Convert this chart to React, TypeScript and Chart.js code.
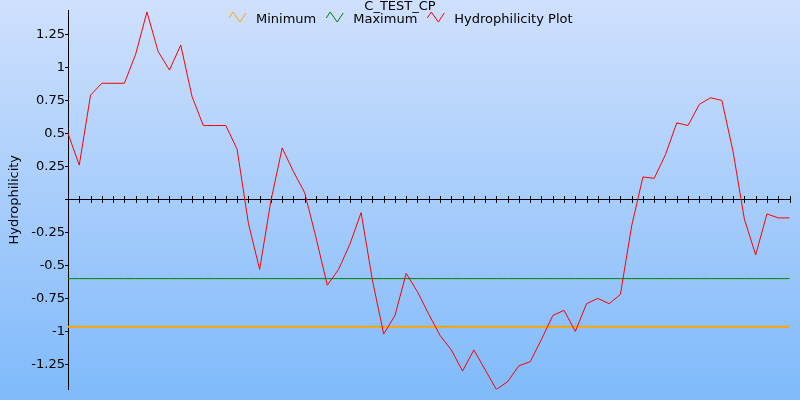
import React, { useEffect, useRef } from 'react';
import { Chart, registerables } from 'chart.js';

Chart.register(...registerables);

const TITLE = 'C_TEST_CP';
const Y_TITLE = 'Hydrophilicity';

const POSITIONS = [
  '1', '2', '3', '4', '5', '6', '7', '8', '9', '10',
  '11', '12', '13', '14', '15', '16', '17', '18', '19', '20',
  '21', '22', '23', '24', '25', '26', '27', '28', '29', '30',
  '31', '32', '33', '34', '35', '36', '37', '38', '39', '40',
  '41', '42', '43', '44', '45', '46', '47', '48', '49', '50',
  '51', '52', '53', '54', '55', '56', '57', '58', '59', '60',
  '61', '62', '63', '64', '65',
];

const HYDROPHILICITY = [
  0.5, 0.26, 0.79, 0.88, 0.88, 0.88, 1.1, 1.42, 1.12, 0.98,
  1.17, 0.78, 0.56, 0.56, 0.56, 0.38, -0.18, -0.53, -0.01, 0.39,
  0.21, 0.05, -0.29, -0.65, -0.53, -0.34, -0.1, -0.61, -1.02, -0.88,
  -0.56, -0.7, -0.87, -1.03, -1.14, -1.3, -1.14, -1.29, -1.44, -1.38,
  -1.26, -1.23, -1.06, -0.88, -0.84, -1.0, -0.79, -0.75, -0.79, -0.72,
  -0.2, 0.17, 0.16, 0.34, 0.58, 0.56, 0.72, 0.77, 0.75, 0.36,
  -0.15, -0.42, -0.11, -0.14, -0.14,
];

const MINIMUM_VALUE = -0.964;
const MAXIMUM_VALUE = -0.6;

const Y_TICKS = [-1.25, -1, -0.75, -0.5, -0.25, 0, 0.25, 0.5, 0.75, 1, 1.25];
const Y_MIN = -1.44;
const Y_MAX = 1.435;

const FONT_FAMILY = "'DejaVu Sans', Verdana, sans-serif";

const backgroundPlugin = {
  id: 'bgGradient',
  beforeDraw(chart: any) {
    const { ctx, width, height } = chart;
    const g = ctx.createLinearGradient(0, 0, 0, height);
    g.addColorStop(0, 'rgb(207,224,253)');
    g.addColorStop(1, 'rgb(127,186,250)');
    ctx.save();
    ctx.fillStyle = g;
    ctx.fillRect(0, 0, width, height);
    ctx.restore();
  },
};

const crossTicksPlugin = {
  id: 'crossTicks',
  beforeDatasetsDraw(chart: any) {
    const { ctx } = chart;
    const x = chart.scales.x;
    const y = chart.scales.y;
    const y0 = Math.round(y.getPixelForValue(0)) + 0.5;
    ctx.save();
    ctx.strokeStyle = '#000';
    ctx.lineWidth = 1;
    ctx.beginPath();
    for (let i = 0; i < POSITIONS.length; i++) {
      const px = Math.round(x.getPixelForValue(i)) + 0.5;
      ctx.moveTo(px, y0 - 3.5);
      ctx.lineTo(px, y0 + 3.5);
    }
    ctx.stroke();
    ctx.restore();
  },
};

const headerPlugin = {
  id: 'header',
  afterDraw(chart: any) {
    const { ctx, width } = chart;
    ctx.save();
    ctx.font = `13px ${FONT_FAMILY}`;
    ctx.fillStyle = '#000';
    ctx.textBaseline = 'alphabetic';
    ctx.textAlign = 'center';
    ctx.fillText(TITLE, width / 2, 10);

    const datasets = chart.data.datasets;
    const iconW = 17;
    const gapIcon = 10;
    const gapItem = 10;
    ctx.textAlign = 'left';
    const widths = datasets.map((d: any) => ctx.measureText(d.label).width);
    let total = 0;
    widths.forEach((w: number, i: number) => {
      total += iconW + gapIcon + w + (i < widths.length - 1 ? gapItem : 0);
    });
    let x = Math.round(width / 2 - total / 2 + 1);
    const top = 12;
    datasets.forEach((d: any, i: number) => {
      ctx.strokeStyle = d.borderColor;
      ctx.lineWidth = 1;
      ctx.beginPath();
      ctx.moveTo(x, top + 6);
      ctx.lineTo(x + 4, top);
      ctx.lineTo(x + 11, top + 10);
      ctx.lineTo(x + 17, top + 1);
      ctx.stroke();
      x += iconW + gapIcon;
      ctx.fillStyle = '#000';
      ctx.fillText(d.label, x, 23);
      x += widths[i] + gapItem;
    });
    ctx.restore();
  },
};

export default function App() {
  const canvasRef = useRef<HTMLCanvasElement | null>(null);

  useEffect(() => {
    document.body.style.margin = '0';
    const canvas = canvasRef.current;
    if (!canvas) return;
    const chart = new Chart(canvas, {
      type: 'line',
      data: {
        labels: POSITIONS,
        datasets: [
          {
            label: 'Minimum',
            data: POSITIONS.map(() => MINIMUM_VALUE),
            borderColor: '#ffa500',
            borderWidth: 2,
            pointRadius: 0,
            tension: 0,
            order: 3,
          },
          {
            label: 'Maximum',
            data: POSITIONS.map(() => MAXIMUM_VALUE),
            borderColor: '#008000',
            borderWidth: 1,
            pointRadius: 0,
            tension: 0,
            order: 2,
          },
          {
            label: 'Hydrophilicity Plot',
            data: HYDROPHILICITY,
            borderColor: '#ff0000',
            borderWidth: 1,
            pointRadius: 0,
            tension: 0,
            order: 1,
          },
        ],
      },
      options: {
        responsive: false,
        animation: false,
        devicePixelRatio: 1,
        layout: { padding: { left: 0, right: 10.5, top: 10, bottom: 10.5 } },
        plugins: {
          legend: { display: false },
          title: { display: false },
          tooltip: { enabled: false },
        },
        scales: {
          x: {
            type: 'category',
            position: { y: 0 },
            offset: false,
            ticks: { display: false },
            grid: { display: false },
            border: { display: true, color: '#000', width: 1 },
          },
          y: {
            type: 'linear',
            min: Y_MIN,
            max: Y_MAX,
            afterFit(scale: any) {
              scale.width = 68;
            },
            afterBuildTicks(scale: any) {
              scale.ticks = Y_TICKS.map((v) => ({ value: v }));
            },
            ticks: {
              color: '#000',
              padding: 0,
              font: { family: FONT_FAMILY, size: 13 },
              callback: (v: any) => (Number(v) === 0 ? '' : String(v)),
            },
            grid: {
              drawOnChartArea: false,
              drawTicks: true,
              tickLength: 3,
              color: '#000',
            },
            border: { display: true, color: '#000', width: 1 },
            title: {
              display: true,
              text: Y_TITLE,
              color: '#000',
              font: { family: FONT_FAMILY, size: 13 },
              padding: { top: 7, bottom: 0 },
            },
          },
        },
      },
      plugins: [backgroundPlugin, crossTicksPlugin, headerPlugin],
    } as any);
    return () => chart.destroy();
  }, []);

  return (
    <div style={{ position: 'fixed', left: 0, top: 0, width: 800, height: 400 }}>
      <canvas ref={canvasRef} width={800} height={400} style={{ display: 'block' }} />
    </div>
  );
}
